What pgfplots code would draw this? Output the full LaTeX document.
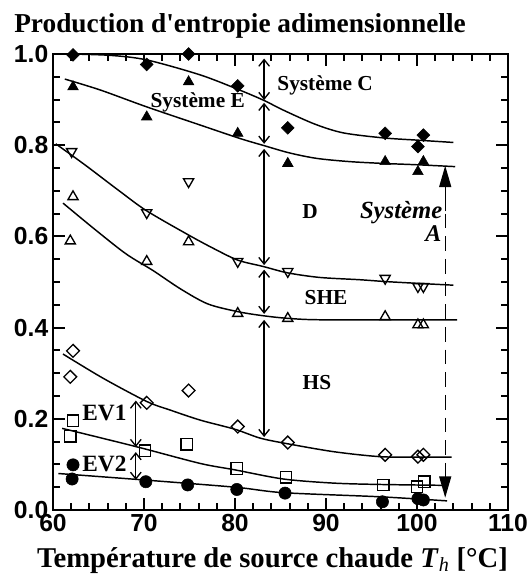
\documentclass[border=0pt]{standalone}
\usepackage{fontspec}
\setmainfont{Liberation Serif}
\newfontfamily\arialfont{Liberation Sans}
\usepackage{pgfplots}
\pgfplotsset{compat=1.18}
\usetikzlibrary{arrows.meta}

\tikzset{
  dbl/.style={black, line width=1pt, {Straight Barb[length=5pt,width=8pt]}-{Straight Barb[length=5pt,width=8pt]}},
  lab/.style={font=\bfseries\fontsize{16}{16}\selectfont, inner sep=0pt},
}

\begin{document}
\begin{tikzpicture}
\useasboundingbox (-39.75pt,-53.25pt) rectangle (358.5pt,382.5pt);
\begin{axis}[
  scale only axis,
  width=341.25pt, height=342pt,
  xmin=60, xmax=110, ymin=0, ymax=1,
  xtick={60,70,...,110}, ytick={0,0.2,0.4,0.6,0.8,1.0},
  minor x tick num=4, minor y tick num=3,
  tick align=inside,
  major tick length=9pt, minor tick length=5pt,
  axis line style={line width=2pt},
  tick style={black, line width=1.5pt},
  tick label style={font=\arialfont\bfseries\fontsize{18.5}{18.5}\selectfont},
  /pgf/number format/assume math mode=true,
  yticklabel style={/pgf/number format/.cd, fixed, fixed zerofill, precision=1},
  clip=false,
]
% fitted curves
\addplot[black, line width=1.1pt, smooth, tension=0.5] coordinates {
 (61.8,1.0) (66.3,0.997) (70.3,0.987) (76.2,0.954) (80.5,0.921) (83.2,0.898) (85.3,0.877) (88.8,0.846) (91.9,0.827) (96.3,0.816) (100.1,0.811) (104,0.806)};
\addplot[black, line width=1.1pt, smooth, tension=0.5] coordinates {
 (61.3,0.945) (65.2,0.921) (70.3,0.884) (76.2,0.844) (80.5,0.815) (83.2,0.799) (86,0.783) (89,0.771) (92.6,0.764) (96.3,0.760) (100.1,0.757) (104.2,0.753)};
\addplot[black, line width=1.1pt, smooth, tension=0.5] coordinates {
 (60.3,0.803) (63.5,0.757) (67.4,0.698) (70.3,0.656) (74.9,0.603) (77.6,0.574) (80.3,0.548) (83.1,0.534) (85.8,0.520) (89.3,0.510) (93.7,0.505) (96.5,0.501) (100.1,0.497) (104,0.493)};
\addplot[black, line width=1.1pt, smooth, tension=0.5] coordinates {
 (61.1,0.673) (64.5,0.617) (68,0.562) (71,0.525) (74,0.485) (77,0.452) (80.3,0.435) (83.1,0.426) (86,0.420) (90,0.417) (104.4,0.417)};
\addplot[black, line width=1.1pt, smooth, tension=0.5] coordinates {
 (61.1,0.342) (65.5,0.289) (70.3,0.238) (72.9,0.219) (76.2,0.197) (80,0.177) (82.7,0.158) (85.3,0.147) (90.8,0.128) (95.9,0.117) (100,0.116) (103.8,0.116)};
\addplot[black, line width=1.1pt, smooth, tension=0.5] coordinates {
 (61,0.179) (65.5,0.157) (69.9,0.135) (76.2,0.102) (80,0.088) (85.3,0.068) (90.8,0.059) (95.9,0.056) (103.3,0.054)};
\addplot[black, line width=1.1pt, smooth, tension=0.5] coordinates {
 (60.6,0.080) (69.9,0.066) (80,0.050) (85.3,0.038) (95.9,0.029) (103.3,0.020)};

% measured points
\addplot[only marks, mark=square*, mark size=3.4pt, mark options={rotate=45, fill=black}] coordinates {
 (62.2,0.998) (70.3,0.977) (74.9,1.0) (80.3,0.930) (85.8,0.838) (96.5,0.826) (100.7,0.822) (100.1,0.797)};
\addplot[only marks, mark=triangle*, mark size=4.6pt, mark options={fill=black}] coordinates {
 (62.2,0.928) (70.3,0.862) (74.9,0.939) (80.3,0.826) (85.8,0.760) (96.5,0.764) (100.7,0.764) (100.1,0.742)};
\addplot[only marks, mark=triangle, mark size=4.4pt, mark options={rotate=180, line width=1pt, fill=white}] coordinates {
 (62.05,0.786) (70.3,0.652) (74.9,0.72) (80.3,0.545) (85.8,0.523) (96.5,0.508) (100.1,0.49) (100.7,0.49)};
\addplot[only marks, mark=triangle, mark size=4.4pt, mark options={line width=1pt, fill=white}] coordinates {
 (62.2,0.687) (61.9,0.590) (70.3,0.545) (74.9,0.588) (80.3,0.431) (85.8,0.42) (96.5,0.424) (100.1,0.406) (100.7,0.406)};
\addplot[only marks, mark=square, mark size=3.4pt, mark options={rotate=45, line width=1pt, fill=white}] coordinates {
 (62.2,0.349) (61.9,0.292) (70.3,0.235) (74.9,0.262) (80.3,0.183) (85.8,0.148) (96.5,0.121) (100.1,0.117) (100.7,0.121)};
\addplot[only marks, mark=square, mark size=4.3pt, mark options={line width=1pt, fill=white}] coordinates {
 (62.2,0.196) (61.9,0.162) (70.1,0.13) (74.7,0.144) (80.2,0.091) (85.6,0.072) (96.3,0.055) (100,0.051) (100.8,0.062)};
\addplot[only marks, mark=*, mark size=4.6pt, mark options={fill=black}] coordinates {
 (62.2,0.099) (62.1,0.068) (70.2,0.062) (74.8,0.055) (80.2,0.045) (85.5,0.037) (96.2,0.018) (100.1,0.025) (100.7,0.022)};

% gaps between systems
\draw[dbl] (axis cs:83.2,0.99) -- (axis cs:83.2,0.899);
\draw[dbl] (axis cs:83.2,0.893) -- (axis cs:83.2,0.803);
\draw[dbl] (axis cs:83.2,0.792) -- (axis cs:83.2,0.537);
\draw[dbl] (axis cs:83.2,0.527) -- (axis cs:83.2,0.430);
\draw[dbl] (axis cs:83.2,0.417) -- (axis cs:83.2,0.160);
\draw[dbl] (axis cs:69.1,0.240) -- (axis cs:69.1,0.138);
\draw[dbl] (axis cs:69.1,0.127) -- (axis cs:69.1,0.066);

\node[lab, anchor=base] at (axis cs:89.9,0.920) {Système C};
\node[lab, anchor=base] at (axis cs:75.9,0.882) {Système E};
\node[lab, anchor=base] at (axis cs:88.25,0.640) {D};
\node[lab, anchor=base] at (axis cs:90,0.450) {SHE};
\node[lab, anchor=base] at (axis cs:89,0.265) {HS};
\node[lab, font=\bfseries\fontsize{17.5}{17.5}\selectfont, anchor=base west] at (axis cs:63.2,0.196) {EV1};
\node[lab, font=\bfseries\fontsize{17.5}{17.5}\selectfont, anchor=base west] at (axis cs:63.2,0.084) {EV2};

% systeme A
\draw[black, line width=1pt, -{Triangle[length=16pt,width=9pt]}] (axis cs:103.1,0.655) -- (axis cs:103.1,0.755);
\draw[black, line width=1pt, dash pattern=on 11pt off 6pt, -{Triangle[length=16pt,width=9pt]}] (axis cs:103.1,0.650) -- (axis cs:103.1,0.027);
\node[lab, font=\bfseries\itshape\fontsize{18.5}{18.5}\selectfont, anchor=base east] at (axis cs:102.8,0.640) {Système};
\node[lab, font=\bfseries\itshape\fontsize{18}{18}\selectfont, anchor=base east] at (axis cs:102.7,0.588) {A};
\end{axis}

\node[anchor=base west, inner sep=0pt, font=\bfseries\fontsize{20.5}{20.5}\selectfont] at (-29.25pt,357.75pt) {Production d\textquotesingle entropie adimensionnelle};
\node[anchor=base, inner sep=0pt, font=\bfseries\fontsize{21.5}{21.5}\selectfont] at (164.6pt,-42.75pt) {Température de source chaude \textit{T}\textsubscript{\textmd{\textit{h}}} [°C]};
\end{tikzpicture}
\end{document}
